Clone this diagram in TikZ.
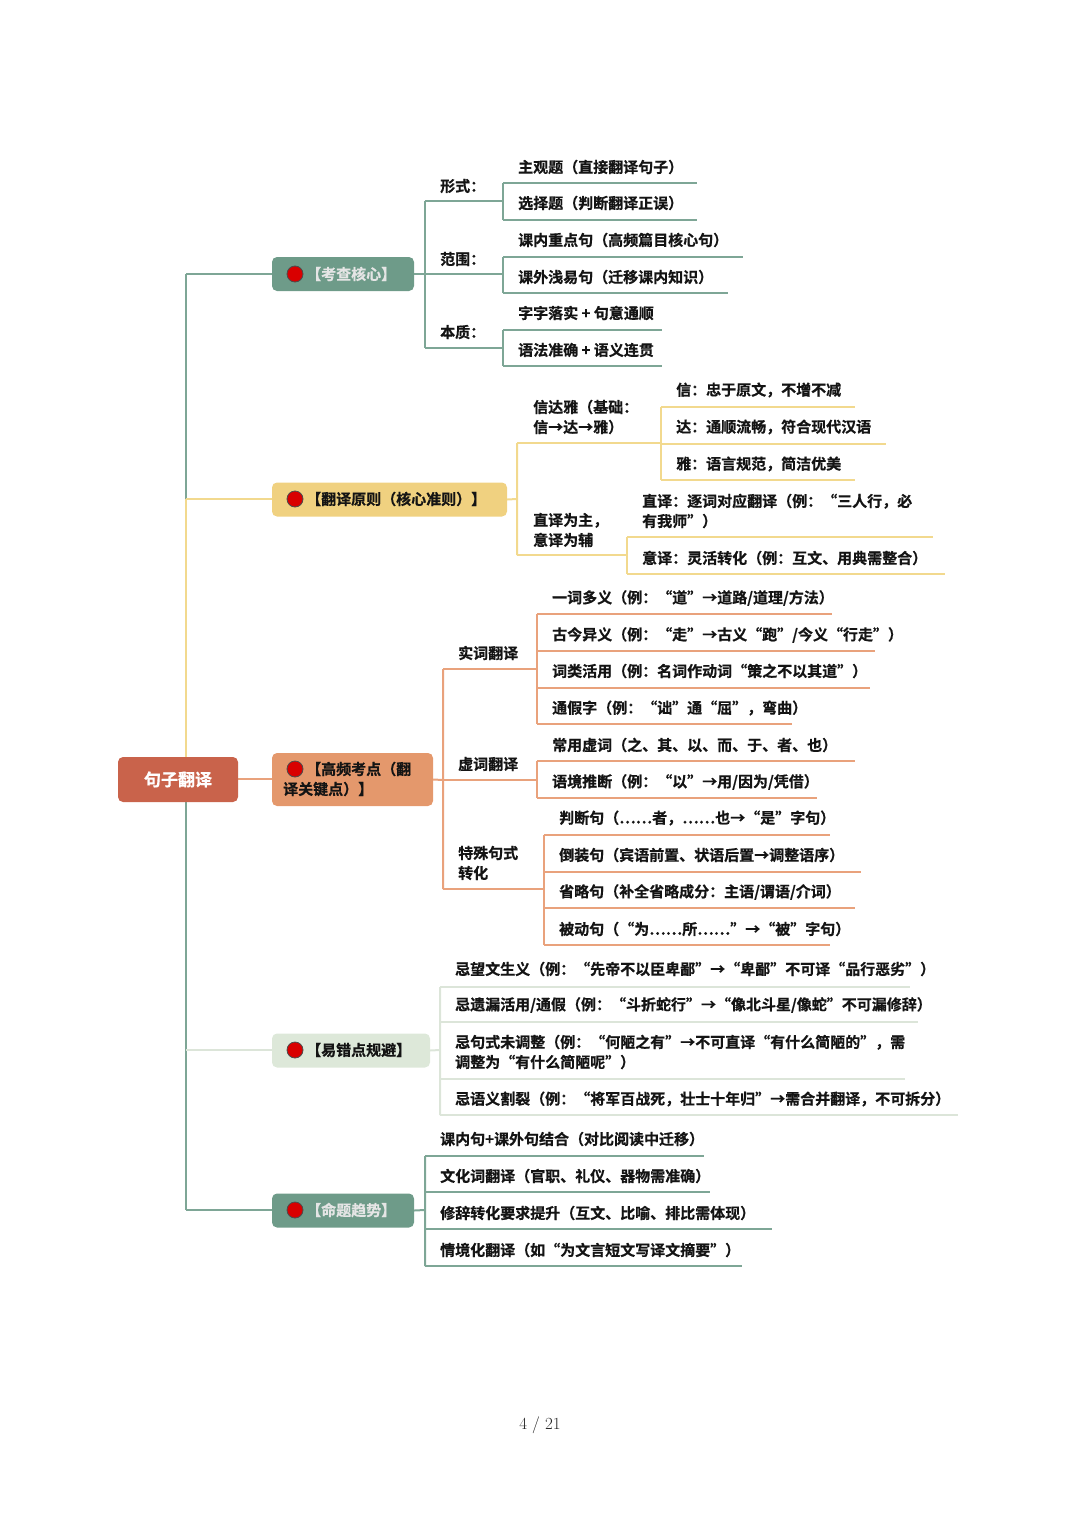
\documentclass[tikz,border=0pt]{standalone}
\usepackage{fontspec}
\newfontfamily\cjk[FakeBold=0.6]{Noto Sans CJK SC Bold}
\begin{document}
\begin{tikzpicture}[x=1pt,y=-1pt,
  txt/.style={anchor=west,inner sep=0,font=\cjk\fontsize{15}{20}\selectfont,text=black!92,align=left},
  box/.style={rounded corners=5pt,inner sep=0,minimum height=34pt},
  dot/.style={circle,fill=red!85!black,draw=black!70,line width=0.8pt,minimum size=16pt,inner sep=0},
  lt/.style={draw=teal0,line width=2pt},
  ly/.style={draw=yel0,line width=2pt},
  lo/.style={draw=ora0,line width=2pt},
  lg/.style={draw=grn0,line width=2pt}]
\definecolor{teal0}{HTML}{7EA696}\definecolor{tealN}{HTML}{6E9B89}
\definecolor{yel0}{HTML}{F2D98E}\definecolor{yelN}{HTML}{F0D180}
\definecolor{ora0}{HTML}{E9A27C}\definecolor{oraN}{HTML}{E4986C}
\definecolor{grn0}{HTML}{DCE5D9}\definecolor{grnN}{HTML}{DDE8D9}
\definecolor{rootN}{HTML}{C9634B}
\useasboundingbox (0,0) rectangle (1080,1528);
% trunk
\draw[lt] (186,274) -- (186,499);
\draw[ly] (186,499) -- (186,757);
\draw[lt] (186,802) -- (186,1210);
\draw[lt] (186,274) -- (272,274);
\draw[ly] (186,499) -- (272,499);
\draw[lo] (238,779) -- (272,779);
\draw[lg] (186,1050) -- (272,1050);
\draw[lt] (186,1210) -- (272,1210);
% nodes
\node[box,fill=rootN,minimum width=120pt,minimum height=45pt,font=\cjk\fontsize{17}{20}\selectfont,text=white] (root) at (178,779.5) {句子翻译};
\node[box,fill=tealN,minimum width=142pt] (a) at (343,274) {};
\node[dot] (ad) at (295,274) {};
\node[txt,text=white!90!black] (at) at (306,274) {【考查核心】};
\node[box,fill=yelN,minimum width=235pt] (b) at (389.5,499.5) {};
\node[dot] (bd) at (295,499) {};
\node[txt] (bt) at (306,499) {【翻译原则（核心准则）】};
\node[box,fill=oraN,minimum width=161pt,minimum height=53pt] (c) at (352.5,779.5) {};
\node[dot] (cd) at (295,769) {};
\node[txt] (ct1) at (306,769) {【高频考点（翻};
\node[txt] (ct2) at (283,789) {译关键点）】};
\node[box,fill=grnN,minimum width=158pt] (d) at (351,1050.5) {};
\node[dot] (dd) at (295,1050) {};
\node[txt] (dt) at (306,1050) {【易错点规避】};
\node[box,fill=tealN,minimum width=142pt] (e) at (343,1210.5) {};
\node[dot] (ed) at (295,1210) {};
\node[txt,text=white!90!black] (et) at (306,1210) {【命题趋势】};
% ---- 考查核心
\draw[lt] (a.east) -- (425,274) (425,201) -- (425,348);
\draw[lt] (425,201) -- (503,201) (503,183) -- (503,220) (503,183) -- (697,183) (503,220) -- (697,220);
\node[txt] (a1) at (440,186) {形式：};
\node[txt] (a11) at (518,167) {主观题（直接翻译句子）};
\node[txt] (a12) at (518,203) {选择题（判断翻译正误）};
\draw[lt] (425,274) -- (503,274) (503,257) -- (503,293) (503,257) -- (743,257) (503,293) -- (728,293);
\node[txt] (a2) at (440,259) {范围：};
\node[txt] (a21) at (518,240) {课内重点句（高频篇目核心句）};
\node[txt] (a22) at (518,277) {课外浅易句（迁移课内知识）};
\draw[lt] (425,348) -- (503,348) (503,330) -- (503,366) (503,330) -- (662,330) (503,366) -- (662,366);
\node[txt] (a3) at (440,332) {本质：};
\node[txt] (a31) at (518,313) {字字落实 + 句意通顺};
\node[txt] (a32) at (518,350) {语法准确 + 语义连贯};
% ---- 翻译原则
\draw[ly] (b.east) -- (517,499) (517,443) -- (517,555);
\draw[ly] (517,443) -- (661,443) (661,407) -- (661,480) (661,407) -- (855,407) (661,444) -- (886,444) (661,480) -- (855,480);
\node[txt] (b1) at (533,417) {信达雅（基础：\\信→达→雅）};
\node[txt] (b11) at (676,390) {信：忠于原文，不增不减};
\node[txt] (b12) at (676,427) {达：通顺流畅，符合现代汉语};
\node[txt] (b13) at (676,464) {雅：语言规范，简洁优美};
\draw[ly] (517,555) -- (627,555) (627,537) -- (627,574) (627,537) -- (933,537) (627,574) -- (945,574);
\node[txt] (b2) at (533,530) {直译为主，\\意译为辅};
\node[txt] (b21) at (642,511) {直译：逐词对应翻译（例：“三人行，必\\有我师”）};
\node[txt] (b22) at (642,558) {意译：灵活转化（例：互文、用典需整合）};
% ---- 高频考点
\draw[lo] (c.east) -- (443,780) (443,669) -- (443,889);
\draw[lo] (443,669) -- (537,669) (537,614) -- (537,724) (537,614) -- (832,614) (537,651) -- (875,651) (537,688) -- (870,688) (537,724) -- (792,724);
\node[txt] (c1) at (458,653) {实词翻译};
\node[txt] (c11) at (552,598) {一词多义（例：“道”→道路/道理/方法）};
\node[txt] (c12) at (552,635) {古今异义（例：“走”→古义“跑”/今义“行走”）};
\node[txt] (c13) at (552,671) {词类活用（例：名词作动词“策之不以其道”）};
\node[txt] (c14) at (552,708) {通假字（例：“诎”通“屈”，弯曲）};
\draw[lo] (443,780) -- (537,780) (537,761) -- (537,798) (537,761) -- (855,761) (537,798) -- (817,798);
\node[txt] (c2) at (458,764) {虚词翻译};
\node[txt] (c21) at (552,745) {常用虚词（之、其、以、而、于、者、也）};
\node[txt] (c22) at (552,782) {语境推断（例：“以”→用/因为/凭借）};
\draw[lo] (443,889) -- (544,889) (544,835) -- (544,945) (544,835) -- (830,835) (544,872) -- (861,872) (544,908) -- (855,908) (544,945) -- (830,945);
\node[txt] (c3) at (458,863) {特殊句式\\转化};
\node[txt] (c31) at (559,818) {判断句（……者，……也→“是”字句）};
\node[txt] (c32) at (559,855) {倒装句（宾语前置、状语后置→调整语序）};
\node[txt] (c33) at (559,892) {省略句（补全省略成分：主语/谓语/介词）};
\node[txt] (c34) at (559,929) {被动句（“为……所……”→“被”字句）};
% ---- 易错点
\draw[lg] (d.east) -- (440,1050) (440,987) -- (440,1115);
\draw[lg] (440,987) -- (910,987) (440,1022) -- (918,1022) (440,1079) -- (905,1079) (440,1115) -- (958,1115);
\node[txt] (d1) at (455,969) {忌望文生义（例：“先帝不以臣卑鄙”→“卑鄙”不可译“品行恶劣”）};
\node[txt] (d2) at (455,1005) {忌遗漏活用/通假（例：“斗折蛇行”→“像北斗星/像蛇”不可漏修辞）};
\node[txt] (d3) at (455,1052) {忌句式未调整（例：“何陋之有”→不可直译“有什么简陋的”，需\\调整为“有什么简陋呢”）};
\node[txt] (d4) at (455,1099) {忌语义割裂（例：“将军百战死，壮士十年归”→需合并翻译，不可拆分）};
% ---- 命题趋势
\draw[lt] (e.east) -- (425,1210) (425,1156) -- (425,1266);
\draw[lt] (425,1156) -- (704,1156) (425,1192) -- (710,1192) (425,1229) -- (772,1229) (425,1266) -- (742,1266);
\node[txt] (e1) at (440,1139) {课内句+课外句结合（对比阅读中迁移）};
\node[txt] (e2) at (440,1176) {文化词翻译（官职、礼仪、器物需准确）};
\node[txt] (e3) at (440,1213) {修辞转化要求提升（互文、比喻、排比需体现）};
\node[txt] (e4) at (440,1250) {情境化翻译（如“为文言短文写译文摘要”）};
% page number
\node[font=\fontsize{17}{18}\selectfont,text=black!85] (pg) at (540,1425) {4 / 21};
\end{tikzpicture}
\end{document}
